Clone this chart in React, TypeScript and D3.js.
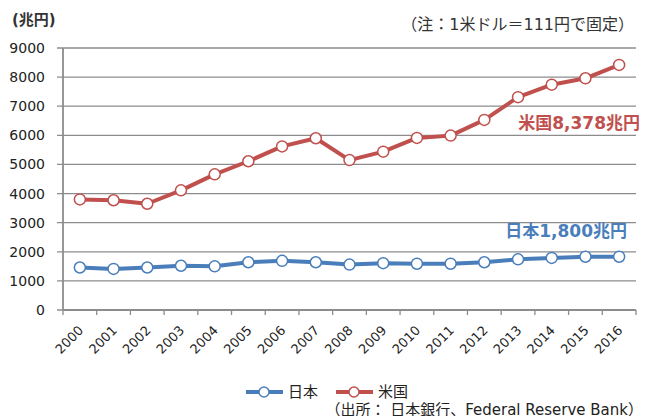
import * as d3 from 'd3'
import { useEffect, useRef } from 'react'

const years = ['2000','2001','2002','2003','2004','2005','2006','2007','2008','2009','2010','2011','2012','2013','2014','2015','2016']
const japan = [1460,1410,1460,1520,1500,1640,1690,1640,1560,1610,1590,1590,1640,1740,1790,1830,1830]
const usa = [3800,3770,3650,4110,4660,5110,5620,5900,5150,5440,5910,5990,6530,7310,7740,7960,8420]
const yTicks = [0,1000,2000,3000,4000,5000,6000,7000,8000,9000]

const BLUE = '#4a7ebb'
const RED = '#c0504d'
const GRID = '#8c8c8c'
const FONT = '"DejaVu Sans", "Noto Sans CJK JP", sans-serif'

export default function App() {
    const svgRef = useRef(null) as any

    useEffect(() => {
        const w = 652
        const h = 416
        const svg = d3.select(svgRef.current)
            .attr('width', w)
            .attr('height', h)
            .style('font-family', FONT)

        svg.selectAll('*').remove()

        const x = d3.scaleBand().domain(years).range([63, 636])
        const y = d3.scaleLinear().domain([0, 9000]).range([310, 48])
        const cx = (d: string) => (x(d) as number) + x.bandwidth() / 2

        // gridlines + y labels
        svg.append('g')
            .selectAll('line')
            .data(yTicks)
            .join('line')
            .attr('x1', 57)
            .attr('x2', 636)
            .attr('y1', d => y(d))
            .attr('y2', d => y(d))
            .attr('stroke', GRID)
            .attr('stroke-width', 1.3)

        svg.append('g')
            .selectAll('text')
            .data(yTicks)
            .join('text')
            .attr('x', 45)
            .attr('y', d => y(d))
            .attr('dy', '0.36em')
            .attr('text-anchor', 'end')
            .style('font-size', '14px')
            .attr('fill', '#222')
            .text(d => d)

        // axes
        svg.append('line')
            .attr('x1', 63).attr('x2', 63)
            .attr('y1', y(9000)).attr('y2', y(0))
            .attr('stroke', GRID).attr('stroke-width', 1.8)

        svg.append('line')
            .attr('x1', 63).attr('x2', 636)
            .attr('y1', y(0)).attr('y2', y(0))
            .attr('stroke', GRID).attr('stroke-width', 1.8)

        const edges = years.map(d => x(d) as number).concat([636])
        svg.append('g')
            .selectAll('line')
            .data(edges)
            .join('line')
            .attr('x1', d => d).attr('x2', d => d)
            .attr('y1', y(0)).attr('y2', y(0) + 5)
            .attr('stroke', GRID).attr('stroke-width', 1.3)

        svg.append('g')
            .selectAll('text')
            .data(years)
            .join('text')
            .attr('transform', d => `translate(${cx(d) + 1},${328}) rotate(-45)`)
            .attr('text-anchor', 'end')
            .attr('dy', '0.35em')
            .style('font-size', '13px')
            .attr('fill', '#222')
            .text(d => d)

        // series
        const makeLine = d3.line<number>()
            .x((_d, i) => cx(years[i]))
            .y(d => y(d))

        const series = [
            { values: japan, color: BLUE },
            { values: usa, color: RED }
        ]

        series.forEach(s => {
            svg.append('path')
                .attr('d', makeLine(s.values))
                .attr('fill', 'none')
                .attr('stroke', s.color)
                .attr('stroke-width', 4)
                .attr('stroke-linejoin', 'round')

            svg.append('g')
                .selectAll('circle')
                .data(s.values)
                .join('circle')
                .attr('cx', (_d, i) => cx(years[i]))
                .attr('cy', d => y(d))
                .attr('r', 5.5)
                .attr('fill', 'white')
                .attr('stroke', s.color)
                .attr('stroke-width', 1.5)
        })

        // annotations
        svg.append('text')
            .attr('x', 12).attr('y', 25)
            .style('font-size', '15px')
            .style('font-weight', 'bold')
            .attr('fill', '#333')
            .text('(兆円)')

        svg.append('text')
            .attr('x', 634).attr('y', 30)
            .attr('text-anchor', 'end')
            .style('font-size', '16px')
            .attr('fill', '#333')
            .text('（注：1米ドル＝111円で固定）')

        svg.append('text')
            .attr('x', 640).attr('y', 129)
            .attr('text-anchor', 'end')
            .style('font-size', '17px')
            .style('font-weight', 'bold')
            .attr('fill', RED)
            .text('米国8,378兆円')

        svg.append('text')
            .attr('x', 627).attr('y', 237)
            .attr('text-anchor', 'end')
            .style('font-size', '17px')
            .style('font-weight', 'bold')
            .attr('fill', BLUE)
            .text('日本1,800兆円')

        // legend
        const legend = [
            { name: '日本', color: BLUE, x0: 246 },
            { name: '米国', color: RED, x0: 336 }
        ]
        legend.forEach(l => {
            svg.append('line')
                .attr('x1', l.x0).attr('x2', l.x0 + 37)
                .attr('y1', 392).attr('y2', 392)
                .attr('stroke', l.color).attr('stroke-width', 4)
            svg.append('circle')
                .attr('cx', l.x0 + 18).attr('cy', 392).attr('r', 5)
                .attr('fill', 'white')
                .attr('stroke', l.color).attr('stroke-width', 1.5)
            svg.append('text')
                .attr('x', l.x0 + 42).attr('y', 392)
                .attr('dy', '0.36em')
                .style('font-size', '15px')
                .attr('fill', '#222')
                .text(l.name)
        })

        svg.append('text')
            .attr('x', 643).attr('y', 415)
            .attr('text-anchor', 'end')
            .style('font-size', '15px')
            .attr('fill', '#222')
            .text('（出所： 日本銀行、Federal Reserve Bank）')
    }, [])

    return (
        <div style={{ position: 'absolute', left: 0, top: 0 }}>
            <svg ref={svgRef} style={{ display: 'block' }} />
        </div>
    )
}
